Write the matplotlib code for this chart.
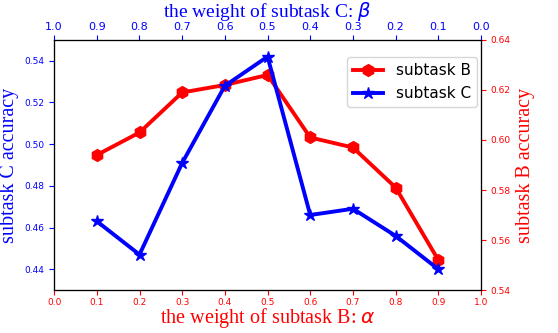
import numpy as np
import matplotlib
matplotlib.use("Agg")
import matplotlib.pyplot as plt

# weights of subtask B (alpha)
alpha = [0.1, 0.2, 0.3, 0.4, 0.5, 0.6, 0.7, 0.8, 0.9]
acc_b = [0.594, 0.603, 0.619, 0.622, 0.626, 0.601, 0.597, 0.581, 0.552]
acc_c = [0.463, 0.447, 0.491, 0.528, 0.542, 0.466, 0.469, 0.456, 0.440]
ticks = np.round(np.arange(0, 1.01, 0.1), 1)

serif = "Liberation Serif"

fig, ax = plt.subplots(figsize=(5.58, 3.33), dpi=100)
fig.subplots_adjust(left=0.097, right=0.862, bottom=0.129, top=0.88)

ax2 = ax.twinx()
ax.set_zorder(ax2.get_zorder() + 1)
ax.patch.set_visible(False)

lb, = ax2.plot(alpha, acc_b, color="red", marker="h", markersize=8.5, linewidth=2.8, label="subtask B")
lc, = ax.plot(alpha, acc_c, color="blue", marker="*", markersize=9, linewidth=2.8, label="subtask C")

ax.set_xlim(0, 1)
ax.set_xticks(ticks)
ax.set_ylim(0.43, 0.55)
ax.set_yticks([0.44, 0.46, 0.48, 0.50, 0.52, 0.54])
ax2.set_ylim(0.54, 0.64)
ax2.set_yticks([0.54, 0.56, 0.58, 0.60, 0.62, 0.64])

ax.tick_params(axis="x", colors="red", labelsize=6.5, pad=2.5)
ax.tick_params(axis="y", colors="blue", labelsize=6.5)
ax2.tick_params(axis="y", colors="red", labelsize=6.5)

ax.set_xlabel(r"the weight of subtask B: $\alpha$", color="red", fontsize=14.5, family=serif, labelpad=-1)
ax.set_ylabel("subtask C accuracy", color="blue", fontsize=14.5, family=serif)
ax2.set_ylabel("subtask B accuracy", color="red", fontsize=14.5, family=serif)

ax3 = ax.twiny()
ax3.set_xlim(1.0, 0.0)
ax3.set_xticks(ticks)
ax3.tick_params(axis="x", colors="blue", labelsize=8, pad=2.2)
ax3.set_xlabel(r"the weight of subtask C: $\beta$", color="blue", fontsize=14, family=serif, labelpad=3.5)

ax.legend(handles=[lb, lc], loc="upper right", fontsize=11, bbox_to_anchor=(1.008, 0.962))

fig.savefig("out.png", dpi=100)
